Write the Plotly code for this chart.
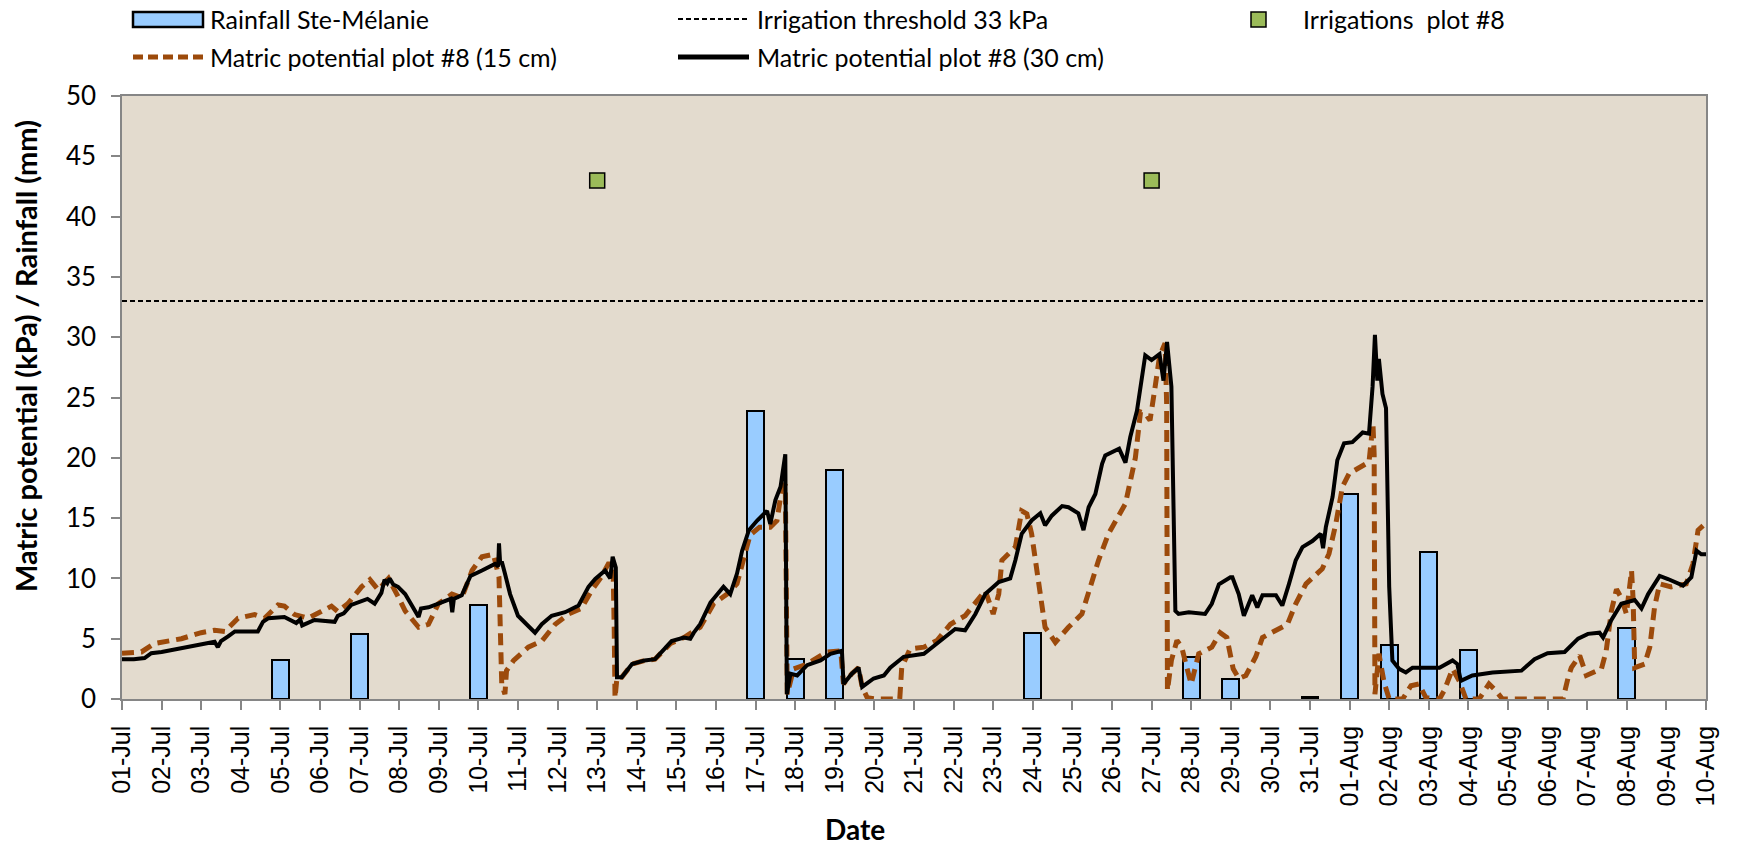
import pandas as pd
import plotly.graph_objects as go

BASE = "2013-07-01"
END = "2013-08-10"

# Rainfall (mm) at Ste-Mélanie, by date
rain_dates = ["2013-07-05", "2013-07-07", "2013-07-10", "2013-07-17", "2013-07-18",
              "2013-07-19", "2013-07-24", "2013-07-28", "2013-07-29", "2013-07-31",
              "2013-08-01", "2013-08-02", "2013-08-03", "2013-08-04", "2013-08-08"]
rain_mm = [3.2, 5.4, 7.8, 23.9, 3.3, 19.0, 5.5, 3.5, 1.7, 0.2, 17.0, 4.5, 12.2, 4.1, 5.9]

# Irrigation events (plot #8)
irr_dates = ["2013-07-13", "2013-07-27"]
irr_level = [43, 43]

threshold_kpa = 33

# Matric potential plot #8, 30 cm (days since 01-Jul, kPa)
mp30_day = [0.0, 0.3, 0.57, 0.74, 1.0, 1.5, 2.0, 2.34, 2.42, 2.5, 2.68, 2.85, 3.43, 3.5, 3.56, 3.7,
            4.1, 4.4, 4.5, 4.55, 4.86, 5.37, 5.45, 5.6, 5.79, 6.2, 6.38, 6.55, 6.63, 6.7, 6.76, 6.85,
            6.97, 7.15, 7.4, 7.49, 7.55, 7.74, 7.99, 8.3, 8.34, 8.38, 8.58, 8.8, 9.09, 9.42, 9.5,
            9.52, 9.55, 9.59, 9.67, 9.8, 10.0, 10.26, 10.43, 10.6, 10.85, 11.19, 11.53, 11.78,
            11.95, 12.2, 12.33, 12.39, 12.47, 12.5, 12.62, 12.88, 13.2, 13.46, 13.63, 13.88,
            14.19, 14.35, 14.44, 14.6, 14.86, 15.19, 15.36, 15.53, 15.66, 15.83, 16.04, 16.29,
            16.37, 16.5, 16.63, 16.75, 16.79, 16.88, 17.05, 17.3, 17.64, 17.89, 18.18, 18.22,
            18.43, 18.6, 18.69, 18.98, 19.24, 19.4, 19.74, 20.25, 20.58, 20.92, 21.04, 21.29,
            21.55, 21.8, 22.14, 22.43, 22.56, 22.72, 22.97, 23.19, 23.31, 23.48, 23.74, 23.9,
            24.15, 24.28, 24.41, 24.58, 24.75, 24.83, 25.18, 25.34, 25.46, 25.63, 25.76, 25.84,
            26.0, 26.2, 26.3, 26.39, 26.5, 26.6, 26.68, 26.94, 27.35, 27.52, 27.7, 27.99, 28.04,
            28.2, 28.33, 28.54, 28.67, 28.8, 29.14, 29.3, 29.47, 29.64, 29.81, 30.06, 30.27,
            30.33, 30.4, 30.57, 30.69, 30.86, 31.07, 31.33, 31.49, 31.58, 31.64, 31.7, 31.74,
            31.83, 31.92, 31.96, 32.0, 32.08, 32.25, 32.42, 32.59, 32.93, 33.27, 33.6, 33.72,
            33.81, 34.1, 34.61, 35.34, 35.67, 36.0, 36.43, 36.77, 37.02, 37.31, 37.4, 37.6,
            37.86, 38.2, 38.37, 38.54, 38.83, 39.04, 39.42, 39.63, 39.76, 39.88, 40.0]
mp30_kpa = [3.3, 3.3, 3.4, 3.8, 3.9, 4.2, 4.5, 4.75, 4.3, 4.8, 5.2, 5.6, 5.6, 6.0, 6.4, 6.7,
            6.8, 6.3, 6.6, 6.1, 6.55, 6.4, 6.9, 7.1, 7.8, 8.3, 7.9, 8.8, 9.9, 9.6, 10.0, 9.5,
            9.3, 8.7, 7.2, 6.8, 7.5, 7.6, 7.9, 8.3, 7.2, 8.3, 8.6, 10.2, 10.65, 11.2, 11.0,
            12.9, 11.2, 11.4, 10.4, 8.7, 6.9, 6.1, 5.5, 6.2, 6.9, 7.2, 7.75, 9.3,
            9.96, 10.65, 10.0, 11.8, 10.9, 1.8, 1.8, 2.9, 3.2, 3.3, 3.9, 4.8,
            5.1, 5.0, 5.5, 6.2, 8.0, 9.3, 8.7, 10.4, 12.3, 14.0, 14.8, 15.6,
            14.5, 16.5, 17.6, 20.3, 0.4, 2.1, 1.95, 2.8, 3.2, 3.75, 4.0, 1.25,
            2.1, 2.6, 1.0, 1.7, 1.95, 2.6, 3.5, 3.75, 4.6, 5.5, 5.8, 5.7,
            7.05, 8.7, 9.7, 10.0, 11.5, 13.7, 14.8, 15.4, 14.4, 15.2, 16.0, 15.9,
            15.4, 14.0, 15.9, 17.0, 19.5, 20.2, 20.75, 19.6, 21.7, 23.9, 26.7, 28.5,
            28.1, 28.6, 26.4, 29.6, 25.9, 7.3, 7.05, 7.2, 7.05, 7.9, 9.5, 10.1, 10.1,
            8.7, 6.9, 8.6, 7.6, 8.6, 8.6, 7.75, 9.55, 11.5, 12.6, 13.1, 13.7,
            12.5, 14.25, 16.75, 19.8, 21.2, 21.3, 22.1, 22.0, 25.9, 30.2, 26.4, 28.2,
            25.3, 24.1, 17.6, 9.3, 3.2, 2.5, 2.2, 2.6, 2.6, 2.6, 3.2, 2.9,
            1.5, 1.95, 2.2, 2.35, 3.3, 3.8, 3.9, 5.0, 5.4, 5.5, 5.1, 6.5,
            7.9, 8.2, 7.5, 8.7, 10.2, 9.95, 9.4, 10.1, 12.3, 12.0, 12.0]

# Matric potential plot #8, 15 cm (days since 01-Jul, kPa)
mp15_day = [0.0, 0.49, 0.82, 1.5, 2.0, 2.34, 2.6, 2.93, 3.35, 3.6, 3.94, 4.1, 4.36, 4.7, 5.03,
            5.29, 5.45, 5.7, 6.05, 6.26, 6.47, 6.73, 6.97, 7.15, 7.49, 7.74, 7.99, 8.33, 8.58,
            8.84, 9.09, 9.38, 9.52, 9.55, 9.57, 9.59, 9.67, 9.71, 9.89, 10.26, 10.6, 10.94,
            11.28, 11.6, 11.86, 12.1, 12.28, 12.4, 12.43, 12.45, 12.5, 12.62, 12.88, 13.2,
            13.46, 13.63, 13.85, 14.19, 14.6, 14.94, 15.28, 15.53, 15.7, 15.86, 16.1, 16.37,
            16.54, 16.67, 16.75, 16.8, 16.96, 17.3, 17.8, 18.15, 18.22, 18.43, 18.6, 18.69,
            18.82, 19.06, 19.64, 19.69, 19.9, 20.25, 20.58, 20.92, 21.29, 21.63, 21.8, 22.0,
            22.14, 22.22, 22.56, 22.72, 22.85, 22.97, 23.1, 23.31, 23.57, 23.9, 24.24, 24.49,
            24.66, 24.91, 25.34, 25.59, 25.72, 25.84, 25.96, 26.09, 26.2, 26.34, 26.38, 26.4,
            26.5, 26.64, 26.76, 26.89, 27.0, 27.19, 27.52, 27.73, 27.9, 28.06, 28.2, 28.38,
            28.63, 28.8, 29.14, 29.43, 29.64, 29.9, 30.31, 30.48, 30.65, 30.82, 30.99, 31.24,
            31.49, 31.59, 31.62, 31.64, 31.74, 31.87, 32.0, 32.34, 32.55, 32.75, 32.93, 33.27,
            33.39, 33.6, 33.77, 33.94, 34.27, 34.52, 34.69, 34.86, 36.39, 36.52, 36.6, 36.81,
            36.98, 37.36, 37.48, 37.61, 37.74, 37.86, 37.99, 38.12, 38.16, 38.2, 38.45, 38.58,
            38.7, 38.83, 39.12, 39.5, 39.67, 39.8, 39.97]
mp15_kpa = [3.8, 3.9, 4.6, 5.0, 5.5, 5.7, 5.6, 6.7, 7.0, 6.7, 7.8, 7.7, 7.0, 6.7, 7.25,
            7.7, 7.25, 7.9, 9.3, 9.9, 9.05, 10.0, 8.5, 7.3, 5.95, 6.2, 7.9, 8.7, 8.4,
            10.65, 11.8, 12.0, 10.1, 6.8, 3.2, 1.2, 0.4, 2.35, 3.2, 4.3, 4.8, 6.2,
            7.05, 7.5, 9.0, 10.1, 11.2, 11.2, 5.7, 0.1, 1.8, 1.8, 2.9, 3.2,
            3.3, 3.9, 4.6, 5.1, 5.95, 7.9, 8.7, 9.55, 11.5, 13.6, 14.25, 14.25,
            14.8, 17.6, 17.8, 0.4, 2.5, 2.9, 3.9, 4.0, 1.25, 2.1, 2.6, 1.0,
            0.1, 0.0, 0.0, 2.6, 4.15, 4.3, 4.85, 6.2, 6.9, 8.2, 9.0, 7.05,
            8.7, 11.5, 12.6, 15.6, 15.35, 13.7, 10.65, 5.95, 4.7, 5.95, 7.05, 9.8,
            11.5, 13.7, 16.2, 20.0, 23.8, 23.65, 23.1, 25.9, 28.4, 29.5, 24.5, 0.7,
            3.2, 4.85, 4.3, 2.6, 1.25, 3.75, 4.3, 5.5, 5.1, 2.5, 1.7, 1.95,
            3.5, 5.1, 5.7, 6.2, 7.9, 9.55, 10.8, 12.05, 14.5, 17.6, 18.7, 19.2,
            19.65, 22.8, 20.3, 0.4, 3.75, 1.4, 0.0, 0.0, 1.1, 1.25, 0.1, 0.0,
            0.7, 2.5, 1.5, 0.0, 0.0, 1.25, 0.7, 0.0, 0.0, 1.8, 2.6, 3.6,
            1.95, 2.5, 4.0, 7.3, 9.1, 8.4, 7.05, 10.65, 8.2, 2.6, 2.9, 4.3,
            7.6, 9.55, 9.3, 9.55, 11.2, 14.0, 14.5]

y_ticks = [0, 5, 10, 15, 20, 25, 30, 35, 40, 45, 50]

W, H = 1737, 851
ML, MR, MT, MB = 122, 31, 96, 152
PW, PH = W - ML - MR, H - MT - MB


def px(x):
    return (x - ML) / PW


def py(y):
    return (H - MB - y) / PH


base = pd.Timestamp(BASE)
to_dt = lambda days: [base + pd.Timedelta(days=d) for d in days]

BROWN = "#9C4A0B"
BAR_FILL = "#99CCFF"
GREEN = "#9BBB59"
BG = "#E3DBCE"
AXIS = "#868686"

fig = go.Figure()
fig.add_trace(go.Bar(
    x=pd.to_datetime(rain_dates), y=rain_mm, width=0.42 * 86400000,
    marker=dict(color=BAR_FILL, line=dict(color="black", width=2)),
    name="Rainfall Ste-Mélanie", showlegend=False))
fig.add_trace(go.Scatter(
    x=[pd.Timestamp(BASE), pd.Timestamp(END)], y=[threshold_kpa, threshold_kpa],
    mode="lines", line=dict(color="black", width=2, dash="5px,3px"),
    name="Irrigation threshold 33 kPa", showlegend=False))
fig.add_trace(go.Scatter(
    x=to_dt(mp15_day), y=mp15_kpa, mode="lines",
    line=dict(color=BROWN, width=5, dash="12px,7px"),
    name="Matric potential plot #8 (15 cm)", showlegend=False))
fig.add_trace(go.Scatter(
    x=to_dt(mp30_day), y=mp30_kpa, mode="lines",
    line=dict(color="black", width=4),
    name="Matric potential plot #8 (30 cm)", showlegend=False))
fig.add_trace(go.Scatter(
    x=pd.to_datetime(irr_dates), y=irr_level, mode="markers",
    marker=dict(symbol="square", size=15, color=GREEN, line=dict(color="black", width=1.5)),
    name="Irrigations  plot #8", showlegend=False))

# Legend drawn manually (two rows)
LEG_FONT = dict(family="Lato", size=25, color="black")
shapes = [
    dict(type="rect", xref="paper", yref="paper", x0=px(133), x1=px(203), y0=py(27), y1=py(12),
         fillcolor=BAR_FILL, line=dict(color="black", width=2.5)),
    dict(type="line", xref="paper", yref="paper", x0=px(678), x1=px(749), y0=py(19), y1=py(19),
         line=dict(color="black", width=2, dash="5px,3px")),
    dict(type="rect", xref="paper", yref="paper", x0=px(1251), x1=px(1266), y0=py(27), y1=py(12),
         fillcolor=GREEN, line=dict(color="black", width=1.5)),
    dict(type="line", xref="paper", yref="paper", x0=px(133), x1=px(203), y0=py(57), y1=py(57),
         line=dict(color=BROWN, width=5, dash="10px,5px")),
    dict(type="line", xref="paper", yref="paper", x0=px(678), x1=px(749), y0=py(57), y1=py(57),
         line=dict(color="black", width=5)),
]
legend_items = [
    (208, 19, "Rainfall Ste-Mélanie"),
    (755, 19, "Irrigation threshold 33 kPa"),
    (1301, 19, "Irrigations  plot #8"),
    (208, 57, "Matric potential plot #8 (15 cm)"),
    (755, 57, "Matric potential plot #8 (30 cm)"),
]
annotations = [
    dict(xref="paper", yref="paper", x=px(x), y=py(y), text=t, showarrow=False,
         xanchor="left", yanchor="middle", font=LEG_FONT)
    for x, y, t in legend_items
]
annotations.append(dict(xref="paper", yref="paper", x=px(25), y=py(356),
                        text="<b>Matric potential (kPa) / Rainfall (mm)</b>", textangle=-90,
                        showarrow=False, xanchor="center", yanchor="middle",
                        font=dict(family="Lato", size=29, color="black")))
annotations.append(dict(xref="paper", yref="paper", x=px(855), y=py(829),
                        text="<b>Date</b>", showarrow=False, xanchor="center", yanchor="middle",
                        borderpad=0, font=dict(family="Lato", size=28, color="black")))

fig.update_layout(
    width=W, height=H, margin=dict(l=ML, r=MR, t=MT, b=MB),
    paper_bgcolor="white", plot_bgcolor=BG, showlegend=False,
    shapes=shapes, annotations=annotations, bargap=0,
)
fig.update_xaxes(
    type="date", range=[BASE, END], dtick=86400000, tick0=BASE, tickformat="%d-%b",
    tickangle=-90, ticks="outside", ticklen=9, tickcolor=AXIS, tickwidth=1.5,
    showline=True, linecolor=AXIS, linewidth=1.5, mirror=True, showgrid=False, zeroline=False,
    tickfont=dict(family="Liberation Sans", size=25, color="black"), ticklabelstandoff=6,
)
fig.update_yaxes(
    range=[0, 50], tickvals=y_ticks, ticks="outside", ticklen=9, tickcolor=AXIS, tickwidth=1.5,
    showline=True, linecolor=AXIS, linewidth=1.5, mirror=True, showgrid=False, zeroline=False,
    tickfont=dict(family="Lato", size=26, color="black"), ticklabelstandoff=10,
)

fig.write_html("out.html")
